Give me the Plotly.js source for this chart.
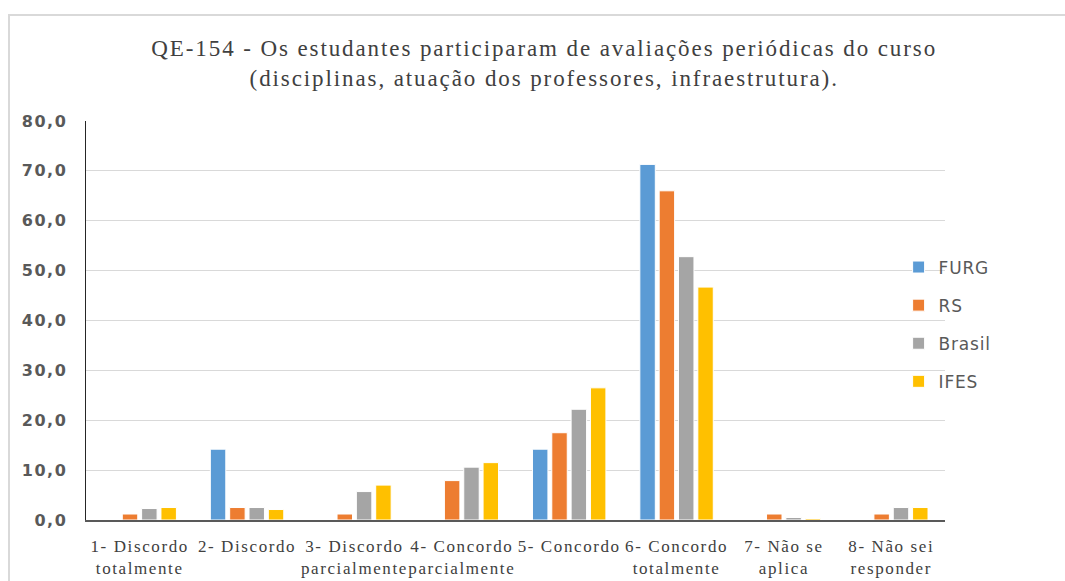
<!DOCTYPE html>
<html>
<head>
<meta charset="utf-8">
<script src="https://cdn.plot.ly/plotly-3.0.1.min.js"></script>
<style>
  html, body { margin: 0; padding: 0; background: #fff; }
  #wrap { position: relative; width: 1065px; height: 581px; overflow: hidden; }
  #chart { position: absolute; left: 0; top: 0; width: 1065px; height: 581px; }
  #frame { position: absolute; left: 8px; top: 14px; width: 1070px; height: 600px;
           border: 2px solid #d9d9d9; pointer-events: none; box-sizing: border-box; }
  #chart .gtitle { letter-spacing: 1.9px; }
  #chart .xtick text { letter-spacing: 1.6px; }
  #chart .ytick text { letter-spacing: 1.5px; }
  #chart .legendtext { letter-spacing: 0.8px; }
</style>
</head>
<body>
<div id="wrap">
  <div id="chart"></div>
  <div id="frame"></div>
</div>
<script>
const categories = [
  "1- Discordo<br>totalmente",
  "2- Discordo",
  "3- Discordo<br>parcialmente",
  "4- Concordo<br>parcialmente",
  "5- Concordo",
  "6- Concordo<br>totalmente",
  "7- Não se<br>aplica",
  "8- Não sei<br>responder"
];
const furg   = [0.0, 14.2, 0.0, 0.0, 14.2, 71.3, 0.0, 0.0];
const rs     = [1.2, 2.5, 1.2, 7.9, 17.5, 66.0, 1.2, 1.2];
const brasil = [2.3, 2.5, 5.7, 10.6, 22.2, 52.8, 0.5, 2.5];
const ifes   = [2.5, 2.1, 7.0, 11.5, 26.5, 46.7, 0.3, 2.5];
const seriesNames = ["FURG", "RS", "Brasil", "IFES"];
const seriesColors = ["#5B9BD5", "#ED7D31", "#A5A5A5", "#FFC000"];
const yTicks = [0, 10, 20, 30, 40, 50, 60, 70, 80];

const allSeries = [furg, rs, brasil, ifes];
const traces = allSeries.map((vals, i) => ({
  type: "bar",
  name: seriesNames[i],
  x: categories,
  y: vals,
  legendgroup: "g" + i,
  marker: { color: seriesColors[i], line: { color: "#ffffff", width: 1 } },
  hoverinfo: "x+y+name"
}));

const layout = {
  width: 1065,
  height: 581,
  paper_bgcolor: "#ffffff",
  plot_bgcolor: "#ffffff",
  margin: { l: 86, r: 120, t: 121, b: 61 },
  separators: ",.",
  barmode: "group",
  bargap: 0.28,
  bargroupgap: 0.2,
  title: {
    text: "QE-154 - Os estudantes participaram de avaliações periódicas do curso<br>(disciplinas, atuação dos professores, infraestrutura).",
    font: { family: "Liberation Serif, Times New Roman, serif", size: 23, color: "#404040" },
    x: 0.511, xref: "container", xanchor: "center",
    y: 0.904, yref: "container", yanchor: "top"
  },
  xaxis: {
    type: "category",
    showgrid: false,
    showline: true,
    linecolor: "#595959",
    linewidth: 1.5,
    ticks: "",
    ticklabelstandoff: 10,
    tickfont: { family: "Liberation Serif, Times New Roman, serif", size: 17, color: "#404040" },
    tickangle: 0,
    automargin: false
  },
  yaxis: {
    range: [0, 80],
    tickvals: yTicks,
    tickformat: ".1f",
    showgrid: true,
    gridcolor: "#D9D9D9",
    gridwidth: 1,
    showline: true,
    linecolor: "#262626",
    linewidth: 1.5,
    zeroline: false,
    ticks: "",
    ticklabelstandoff: 14,
    tickfont: { family: "DejaVu Sans, Verdana, sans-serif", size: 16, color: "#595959", weight: "bold" },
    automargin: false
  },
  legend: {
    x: 0.946, xanchor: "left",
    y: 0.49, yanchor: "middle",
    font: { family: "DejaVu Sans, Verdana, sans-serif", size: 17, color: "#595959" },
    tracegroupgap: 13,
    bgcolor: "rgba(0,0,0,0)",
    traceorder: "grouped"
  },
  showlegend: true
};

Plotly.newPlot("chart", traces, layout, { displayModeBar: false, staticPlot: true });
</script>
</body>
</html>
